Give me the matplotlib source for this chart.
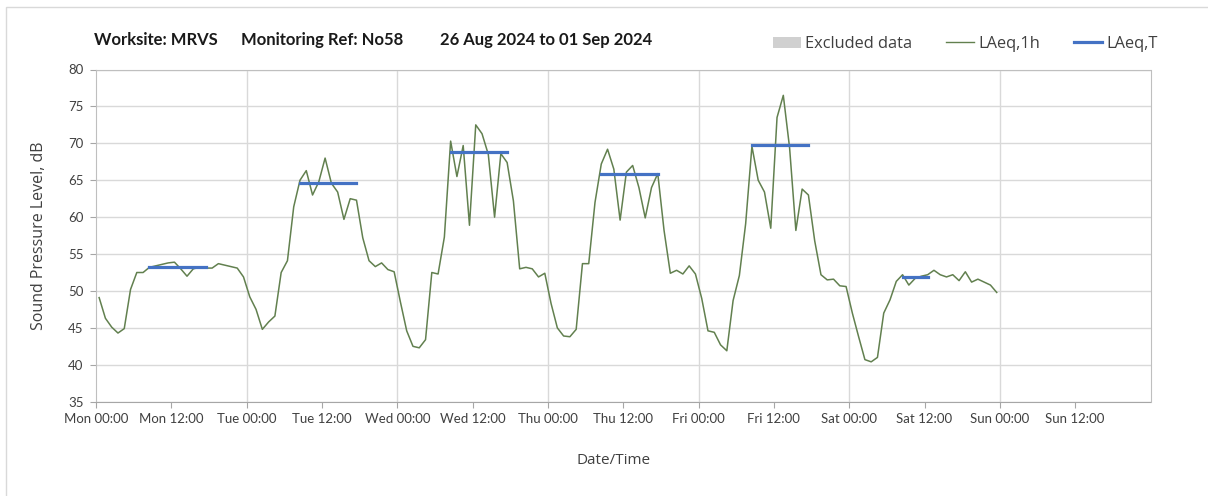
import numpy as np
import matplotlib
matplotlib.use('Agg')
import matplotlib.pyplot as plt
from matplotlib.patches import Rectangle, Patch
from matplotlib.lines import Line2D

# hourly LAeq,1h values, Mon 00:00 .. Sat 23:00 (plotted mid-hour)
mon = [49.1, 46.3, 45.1, 44.3, 44.9, 50.2, 52.5, 52.5, 53.2, 53.4, 53.6, 53.8,
       53.9, 53.0, 52.0, 53.0, 53.2, 53.1, 53.1, 53.7, 53.5, 53.3, 53.1, 51.9]
tue = [49.2, 47.5, 44.8, 45.8, 46.6, 52.5, 54.1, 61.4, 65.0, 66.3, 63.0, 64.8,
       68.0, 64.6, 63.4, 59.7, 62.5, 62.3, 57.2, 54.1, 53.3, 53.8, 52.9, 52.6]
wed = [48.5, 44.6, 42.5, 42.3, 43.4, 52.5, 52.3, 57.3, 70.3, 65.5, 69.7, 58.9,
       72.5, 71.3, 68.5, 60.0, 68.6, 67.4, 62.2, 53.0, 53.2, 53.0, 51.9, 52.4]
thu = [48.3, 45.0, 43.9, 43.8, 44.8, 53.7, 53.7, 62.0, 67.2, 69.2, 66.5, 59.6,
       66.1, 67.0, 64.0, 59.9, 64.0, 65.9, 58.2, 52.4, 52.8, 52.3, 53.4, 52.3]
fri = [49.0, 44.6, 44.4, 42.7, 41.9, 48.7, 52.1, 59.1, 69.6, 65.0, 63.4, 58.5,
       73.5, 76.5, 69.4, 58.2, 63.8, 63.0, 56.8, 52.2, 51.5, 51.6, 50.7, 50.6]
sat = [47.0, 43.8, 40.7, 40.4, 41.0, 47.0, 48.8, 51.3, 52.2, 50.8, 51.7, 52.0,
       52.2, 52.8, 52.2, 51.9, 52.2, 51.4, 52.6, 51.2, 51.6, 51.2, 50.8, 49.8]

# LAeq,T over the working period of each day
period_day = [0, 1, 2, 3, 4, 5]
period_start = [8, 8, 8, 8, 8, 8]
period_end = [18, 18, 18, 18, 18, 13]
period_laeq = [53.2, 64.6, 68.8, 65.9, 69.8, 51.9]

tick_labels = ['Mon 00:00', 'Mon 12:00', 'Tue 00:00', 'Tue 12:00', 'Wed 00:00',
               'Wed 12:00', 'Thu 00:00', 'Thu 12:00', 'Fri 00:00', 'Fri 12:00',
               'Sat 00:00', 'Sat 12:00', 'Sun 00:00', 'Sun 12:00']

laeq_1h = np.array(mon + tue + wed + thu + fri + sat)
hours = np.arange(len(laeq_1h)) + 0.5

W, H = 1208, 496
fig = plt.figure(figsize=(W / 100, H / 100), dpi=100)
ax = fig.add_axes([96 / W, 1 - 401.7 / H, (1150.5 - 96) / W, (401.7 - 69.5) / H])

grey_txt = '#404040'
green = '#62804f'
ax.plot(hours, laeq_1h, color=green, lw=1.1, zorder=3)
for d, s, e, v in zip(period_day, period_start, period_end, period_laeq):
    ax.plot([d * 24 + s + 0.5, d * 24 + e - 0.5], [v, v], color='#4472c4',
            lw=2.3, solid_capstyle='projecting', zorder=4)

ax.set_xlim(0, 168)
ax.set_ylim(35, 80)
ax.set_yticks(np.arange(35, 81, 5))
ax.set_xticks(np.arange(0, 168, 12))
ax.set_xticklabels(tick_labels)
ax.grid(axis='y', color='#d9d9d9', lw=1.0)
for x in range(24, 168, 24):
    ax.axvline(x, color='#d9d9d9', lw=1.0, zorder=1)
ax.set_axisbelow(True)
for sp in ax.spines.values():
    sp.set_color('#bfbfbf')
ax.spines['bottom'].set_color('#a6a6a6')
ax.tick_params(axis='both', colors='#a6a6a6', labelcolor=grey_txt, length=4,
               labelsize=9.5, direction='out')
ax.tick_params(axis='y', pad=5)
ax.tick_params(axis='x', pad=4)
for lab in ax.get_xticklabels() + ax.get_yticklabels():
    lab.set_family('Lato')

ax.set_ylabel('Sound Pressure Level, dB', family='Open Sans', fontsize=11.5,
              color=grey_txt, labelpad=15)
fig.text(614 / W, 1 - 461 / H, 'Date/Time', family='Open Sans', fontsize=11,
         color=grey_txt, ha='center', va='center')

# title pieces
for x, s in [(94, 'Worksite: MRVS'), (241, 'Monitoring Ref: No58'),
             (440, '26 Aug 2024 to 01 Sep 2024')]:
    fig.text(x / W, 1 - 40 / H, s, family='Lato', fontweight='bold',
             fontsize=12, color='#1a1a1a', ha='left', va='center')

handles = [Patch(facecolor='#d0d0d0', edgecolor='none', label='Excluded data'),
           Line2D([], [], color=green, lw=1.0, label='LAeq,1h'),
           Line2D([], [], color='#4472c4', lw=2.3, label='LAeq,T')]
leg = fig.legend(handles=handles, ncol=3, loc='center right',
                 bbox_to_anchor=(1166 / W, 1 - 44 / H), frameon=False,
                 prop={'family': 'Open Sans', 'size': 11.8}, handlelength=1.7,
                 handletextpad=0.25, columnspacing=2.1, borderpad=0)
for t in leg.get_texts():
    t.set_color(grey_txt)

fig.add_artist(Rectangle((6 / W, -0.1), 2, 1.1 - 7 / H, transform=fig.transFigure,
                         fill=False, edgecolor='#d9d9d9', lw=1.0))

fig.savefig('out.png', dpi=100, facecolor='white')
